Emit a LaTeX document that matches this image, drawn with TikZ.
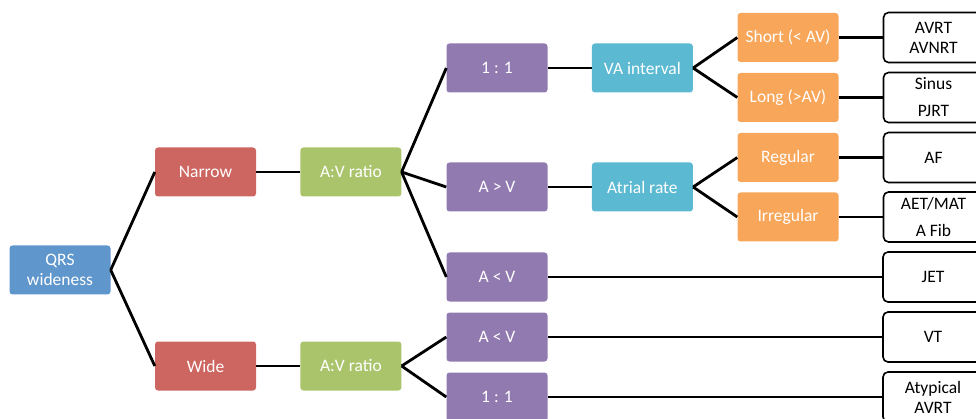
\documentclass[tikz,border=0pt]{standalone}
\usepackage{fontspec}
\setmainfont{Carlito}
\usepackage{tikz}
\usetikzlibrary{positioning}
\usepackage{xcolor}

\definecolor{qrsblue}{HTML}{5F97CD}
\definecolor{widthred}{HTML}{CD6660}
\definecolor{ratiogreen}{HTML}{AAC46C}
\definecolor{ratiopurple}{HTML}{917AB0}
\definecolor{stepcyan}{HTML}{5BB9D1}
\definecolor{leaforange}{HTML}{F8A65A}

\begin{document}
\begin{tikzpicture}[x=1pt, y=-1pt,
        box/.style={rectangle, rounded corners=3pt, fill=#1, text=white, minimum width=101pt, minimum height=49pt, align=center, font=\fontsize{17.5}{20}\selectfont},
        result/.style={draw, line width=1.6pt, rectangle, rounded corners=5pt, fill=white, minimum width=100pt, minimum height=50pt, align=center, font=\fontsize{17.5}{20}\selectfont},
        link/.style={line width=2.8pt}]
        \useasboundingbox (0,0) rectangle (976,419);
        \clip (0,0) rectangle (976,419);

        % Root
        \node[box=qrsblue] (qrs) at (60,270) {QRS\\wideness};

        % QRS width
        \node[box=widthred] (narrow) at (205.5,172) {Narrow};
        \node[box=widthred] (wide) at (205.5,366) {Wide};

        % A:V ratio
        \node[box=ratiogreen, right=44pt of narrow] (avtop) {A:V ratio};
        \node[box=ratiogreen, right=44pt of wide] (avbot) {A:V ratio};

        % Ratios
        \node[box=ratiopurple] (oneone) at (497,68) {1 : 1};
        \node[box=ratiopurple] (agtv) at (497,187) {A > V};
        \node[box=ratiopurple] (altv) at (497,277) {A < V};
        \node[box=ratiopurple] (altvw) at (497,337) {A < V};
        \node[box=ratiopurple] (oneonew) at (497,397) {1 : 1};

        % Next step
        \node[box=stepcyan, right=44pt of oneone] (vaint) {VA interval};
        \node[box=stepcyan, right=44pt of agtv] (arate) {Atrial rate};

        % Leaves
        \node[box=leaforange] (short) at (788,37.5) {Short (< AV)};
        \node[box=leaforange] (long) at (788,97.5) {Long (>AV)};
        \node[box=leaforange] (regular) at (788,157.5) {Regular};
        \node[box=leaforange] (irregular) at (788,217) {Irregular};

        % Diagnoses
        \node[result, right=44pt of short] (avrt) {AVRT\\AVNRT};
        \node[result, right=44pt of long] (sinus) {Sinus\\[7pt]PJRT};
        \node[result, right=44pt of regular] (af) {AF};
        \node[result, right=44pt of irregular] (aet) {AET/MAT\\[7pt]A Fib};
        \node[result] (jet) at (933,277) {JET};
        \node[result] (vt) at (933,337) {VT};
        \node[result] (atyp) at (933,397) {Atypical\\AVRT};

        % Connectors
        \draw[link] (qrs.east) -- (narrow.west);
        \draw[link] (qrs.east) -- (wide.west);
        \draw[link] (narrow) -- (avtop);
        \draw[link] (wide) -- (avbot);
        \draw[link] (avtop.east) -- (oneone.west);
        \draw[link] (avtop.east) -- (agtv.west);
        \draw[link] (avtop.east) -- (altv.west);
        \draw[link] (avbot.east) -- (altvw.west);
        \draw[link] (avbot.east) -- (oneonew.west);
        \draw[link] (oneone) -- (vaint);
        \draw[link] (agtv) -- (arate);
        \draw[link] (vaint.east) -- (short.west);
        \draw[link] (vaint.east) -- (long.west);
        \draw[link] (arate.east) -- (regular.west);
        \draw[link] (arate.east) -- (irregular.west);
        \draw[link] (short) -- (avrt);
        \draw[link] (long) -- (sinus);
        \draw[link] (regular) -- (af);
        \draw[link] (irregular) -- (aet);
        \draw[link] (altv) -- (jet);
        \draw[link] (altvw) -- (vt);
        \draw[link] (oneonew) -- (atyp);
    \end{tikzpicture}
\end{document}
